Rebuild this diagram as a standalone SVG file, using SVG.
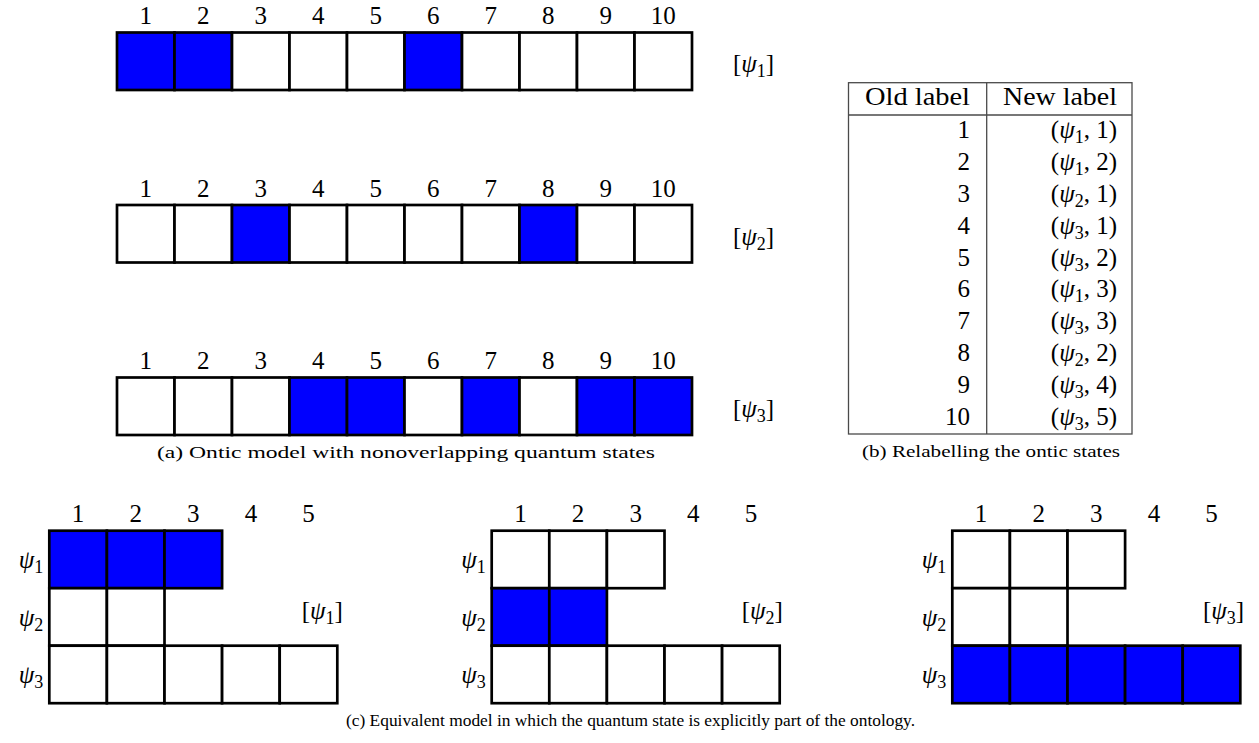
<svg xmlns="http://www.w3.org/2000/svg" width="1259" height="743" viewBox="0 0 1259 743">
<style>
.t{font-family:"Liberation Serif","DejaVu Serif",serif;fill:#000}
.num{font-size:25px;text-anchor:middle}
.lab{font-size:25px}
.it{font-style:italic}
.sub{font-size:18px}
.cap{font-size:17.5px;text-anchor:middle}
.c{stroke:#000;stroke-width:2.7;fill:#fff}
.b{fill:#0000ff}
.tl{stroke:#4a4a4a;stroke-width:1.3;fill:none}
</style>
<rect width="1259" height="743" fill="#fff"/>

<!-- Panel (a) row 1 -->
<g id="row-psi1">
<g class="t num">
<text x="145.75" y="23.5">1</text><text x="203.25" y="23.5">2</text><text x="260.75" y="23.5">3</text><text x="318.25" y="23.5">4</text><text x="375.75" y="23.5">5</text><text x="433.25" y="23.5">6</text><text x="490.75" y="23.5">7</text><text x="548.25" y="23.5">8</text><text x="605.75" y="23.5">9</text><text x="663.25" y="23.5">10</text>
</g>
<rect class="c b" x="117" y="32.5" width="57.5" height="57.5"/>
<rect class="c b" x="174.5" y="32.5" width="57.5" height="57.5"/>
<rect class="c" x="232" y="32.5" width="57.5" height="57.5"/>
<rect class="c" x="289.5" y="32.5" width="57.5" height="57.5"/>
<rect class="c" x="347" y="32.5" width="57.5" height="57.5"/>
<rect class="c b" x="404.5" y="32.5" width="57.5" height="57.5"/>
<rect class="c" x="462" y="32.5" width="57.5" height="57.5"/>
<rect class="c" x="519.5" y="32.5" width="57.5" height="57.5"/>
<rect class="c" x="577" y="32.5" width="57.5" height="57.5"/>
<rect class="c" x="634.5" y="32.5" width="57.5" height="57.5"/>
<text class="t lab" x="733" y="72">[<tspan class="it">ψ</tspan><tspan class="sub" dy="5">1</tspan><tspan dy="-5">]</tspan></text>
</g>

<!-- Panel (a) row 2 -->
<g id="row-psi2">
<g class="t num">
<text x="145.75" y="196.5">1</text><text x="203.25" y="196.5">2</text><text x="260.75" y="196.5">3</text><text x="318.25" y="196.5">4</text><text x="375.75" y="196.5">5</text><text x="433.25" y="196.5">6</text><text x="490.75" y="196.5">7</text><text x="548.25" y="196.5">8</text><text x="605.75" y="196.5">9</text><text x="663.25" y="196.5">10</text>
</g>
<rect class="c" x="117" y="205" width="57.5" height="57.5"/>
<rect class="c" x="174.5" y="205" width="57.5" height="57.5"/>
<rect class="c b" x="232" y="205" width="57.5" height="57.5"/>
<rect class="c" x="289.5" y="205" width="57.5" height="57.5"/>
<rect class="c" x="347" y="205" width="57.5" height="57.5"/>
<rect class="c" x="404.5" y="205" width="57.5" height="57.5"/>
<rect class="c" x="462" y="205" width="57.5" height="57.5"/>
<rect class="c b" x="519.5" y="205" width="57.5" height="57.5"/>
<rect class="c" x="577" y="205" width="57.5" height="57.5"/>
<rect class="c" x="634.5" y="205" width="57.5" height="57.5"/>
<text class="t lab" x="733" y="244.5">[<tspan class="it">ψ</tspan><tspan class="sub" dy="5">2</tspan><tspan dy="-5">]</tspan></text>
</g>

<!-- Panel (a) row 3 -->
<g id="row-psi3">
<g class="t num">
<text x="145.75" y="368.5">1</text><text x="203.25" y="368.5">2</text><text x="260.75" y="368.5">3</text><text x="318.25" y="368.5">4</text><text x="375.75" y="368.5">5</text><text x="433.25" y="368.5">6</text><text x="490.75" y="368.5">7</text><text x="548.25" y="368.5">8</text><text x="605.75" y="368.5">9</text><text x="663.25" y="368.5">10</text>
</g>
<rect class="c" x="117" y="377.5" width="57.5" height="57.5"/>
<rect class="c" x="174.5" y="377.5" width="57.5" height="57.5"/>
<rect class="c" x="232" y="377.5" width="57.5" height="57.5"/>
<rect class="c b" x="289.5" y="377.5" width="57.5" height="57.5"/>
<rect class="c b" x="347" y="377.5" width="57.5" height="57.5"/>
<rect class="c" x="404.5" y="377.5" width="57.5" height="57.5"/>
<rect class="c b" x="462" y="377.5" width="57.5" height="57.5"/>
<rect class="c" x="519.5" y="377.5" width="57.5" height="57.5"/>
<rect class="c b" x="577" y="377.5" width="57.5" height="57.5"/>
<rect class="c b" x="634.5" y="377.5" width="57.5" height="57.5"/>
<text class="t lab" x="733" y="417">[<tspan class="it">ψ</tspan><tspan class="sub" dy="5">3</tspan><tspan dy="-5">]</tspan></text>
</g>

<text id="cap-a" class="t cap" x="406" y="458" textLength="498" lengthAdjust="spacingAndGlyphs">(a) Ontic model with nonoverlapping quantum states</text>

<!-- Panel (b) table -->
<g id="table">
<rect class="tl" x="848.5" y="82.7" width="283.5" height="351.3"/>
<line class="tl" x1="848.5" y1="115" x2="1132" y2="115"/>
<line class="tl" x1="986.7" y1="82.7" x2="986.7" y2="434"/>
<text class="t lab" x="865" y="105" textLength="105" lengthAdjust="spacingAndGlyphs">Old label</text>
<text class="t lab" x="1003" y="105" textLength="114" lengthAdjust="spacingAndGlyphs">New label</text>
<g class="t lab" text-anchor="end">
<text x="970" y="138.3">1</text>
<text x="970" y="170.1">2</text>
<text x="970" y="201.9">3</text>
<text x="970" y="233.7">4</text>
<text x="970" y="265.5">5</text>
<text x="970" y="297.3">6</text>
<text x="970" y="329.1">7</text>
<text x="970" y="360.9">8</text>
<text x="970" y="392.7">9</text>
<text x="970" y="424.5">10</text>
</g>
<g class="t lab" text-anchor="end">
<text x="1117" y="138.3">(<tspan class="it">ψ</tspan><tspan class="sub" dy="5">1</tspan><tspan dy="-5">, 1)</tspan></text>
<text x="1117" y="170.1">(<tspan class="it">ψ</tspan><tspan class="sub" dy="5">1</tspan><tspan dy="-5">, 2)</tspan></text>
<text x="1117" y="201.9">(<tspan class="it">ψ</tspan><tspan class="sub" dy="5">2</tspan><tspan dy="-5">, 1)</tspan></text>
<text x="1117" y="233.7">(<tspan class="it">ψ</tspan><tspan class="sub" dy="5">3</tspan><tspan dy="-5">, 1)</tspan></text>
<text x="1117" y="265.5">(<tspan class="it">ψ</tspan><tspan class="sub" dy="5">3</tspan><tspan dy="-5">, 2)</tspan></text>
<text x="1117" y="297.3">(<tspan class="it">ψ</tspan><tspan class="sub" dy="5">1</tspan><tspan dy="-5">, 3)</tspan></text>
<text x="1117" y="329.1">(<tspan class="it">ψ</tspan><tspan class="sub" dy="5">3</tspan><tspan dy="-5">, 3)</tspan></text>
<text x="1117" y="360.9">(<tspan class="it">ψ</tspan><tspan class="sub" dy="5">2</tspan><tspan dy="-5">, 2)</tspan></text>
<text x="1117" y="392.7">(<tspan class="it">ψ</tspan><tspan class="sub" dy="5">3</tspan><tspan dy="-5">, 4)</tspan></text>
<text x="1117" y="424.5">(<tspan class="it">ψ</tspan><tspan class="sub" dy="5">3</tspan><tspan dy="-5">, 5)</tspan></text>
</g>
</g>
<text id="cap-b" class="t cap" x="991" y="457" textLength="258" lengthAdjust="spacingAndGlyphs">(b) Relabelling the ontic states</text>

<!-- Panel (c) grids -->
<g id="grid-psi1" transform="translate(49.3,0)">
<g class="t num">
<text x="28.8" y="521.7">1</text><text x="86.4" y="521.7">2</text><text x="144" y="521.7">3</text><text x="201.6" y="521.7">4</text><text x="259.2" y="521.7">5</text>
</g>
<g class="t lab" text-anchor="end">
<text x="-6" y="568"><tspan class="it">ψ</tspan><tspan class="sub" dy="5">1</tspan></text>
<text x="-6" y="625.5"><tspan class="it">ψ</tspan><tspan class="sub" dy="5">2</tspan></text>
<text x="-6" y="683"><tspan class="it">ψ</tspan><tspan class="sub" dy="5">3</tspan></text>
</g>
<rect class="c b" x="0" y="530.7" width="57.6" height="57.5"/>
<rect class="c b" x="57.6" y="530.7" width="57.6" height="57.5"/>
<rect class="c b" x="115.2" y="530.7" width="57.6" height="57.5"/>
<rect class="c" x="0" y="588.2" width="57.6" height="57.5"/>
<rect class="c" x="57.6" y="588.2" width="57.6" height="57.5"/>
<rect class="c" x="0" y="645.7" width="57.6" height="57.5"/>
<rect class="c" x="57.6" y="645.7" width="57.6" height="57.5"/>
<rect class="c" x="115.2" y="645.7" width="57.6" height="57.5"/>
<rect class="c" x="172.8" y="645.7" width="57.6" height="57.5"/>
<rect class="c" x="230.4" y="645.7" width="57.6" height="57.5"/>
<text class="t lab" x="252.4" y="619">[<tspan class="it">ψ</tspan><tspan class="sub" dy="5">1</tspan><tspan dy="-5">]</tspan></text>
</g>

<g id="grid-psi2" transform="translate(491.7,0)">
<g class="t num">
<text x="28.8" y="521.7">1</text><text x="86.4" y="521.7">2</text><text x="144" y="521.7">3</text><text x="201.6" y="521.7">4</text><text x="259.2" y="521.7">5</text>
</g>
<g class="t lab" text-anchor="end">
<text x="-6" y="568"><tspan class="it">ψ</tspan><tspan class="sub" dy="5">1</tspan></text>
<text x="-6" y="625.5"><tspan class="it">ψ</tspan><tspan class="sub" dy="5">2</tspan></text>
<text x="-6" y="683"><tspan class="it">ψ</tspan><tspan class="sub" dy="5">3</tspan></text>
</g>
<rect class="c" x="0" y="530.7" width="57.6" height="57.5"/>
<rect class="c" x="57.6" y="530.7" width="57.6" height="57.5"/>
<rect class="c" x="115.2" y="530.7" width="57.6" height="57.5"/>
<rect class="c b" x="0" y="588.2" width="57.6" height="57.5"/>
<rect class="c b" x="57.6" y="588.2" width="57.6" height="57.5"/>
<rect class="c" x="0" y="645.7" width="57.6" height="57.5"/>
<rect class="c" x="57.6" y="645.7" width="57.6" height="57.5"/>
<rect class="c" x="115.2" y="645.7" width="57.6" height="57.5"/>
<rect class="c" x="172.8" y="645.7" width="57.6" height="57.5"/>
<rect class="c" x="230.4" y="645.7" width="57.6" height="57.5"/>
<text class="t lab" x="250" y="619">[<tspan class="it">ψ</tspan><tspan class="sub" dy="5">2</tspan><tspan dy="-5">]</tspan></text>
</g>

<g id="grid-psi3" transform="translate(952.3,0)">
<g class="t num">
<text x="28.8" y="521.7">1</text><text x="86.4" y="521.7">2</text><text x="144" y="521.7">3</text><text x="201.6" y="521.7">4</text><text x="259.2" y="521.7">5</text>
</g>
<g class="t lab" text-anchor="end">
<text x="-6" y="568"><tspan class="it">ψ</tspan><tspan class="sub" dy="5">1</tspan></text>
<text x="-6" y="625.5"><tspan class="it">ψ</tspan><tspan class="sub" dy="5">2</tspan></text>
<text x="-6" y="683"><tspan class="it">ψ</tspan><tspan class="sub" dy="5">3</tspan></text>
</g>
<rect class="c" x="0" y="530.7" width="57.6" height="57.5"/>
<rect class="c" x="57.6" y="530.7" width="57.6" height="57.5"/>
<rect class="c" x="115.2" y="530.7" width="57.6" height="57.5"/>
<rect class="c" x="0" y="588.2" width="57.6" height="57.5"/>
<rect class="c" x="57.6" y="588.2" width="57.6" height="57.5"/>
<rect class="c b" x="0" y="645.7" width="57.6" height="57.5"/>
<rect class="c b" x="57.6" y="645.7" width="57.6" height="57.5"/>
<rect class="c b" x="115.2" y="645.7" width="57.6" height="57.5"/>
<rect class="c b" x="172.8" y="645.7" width="57.6" height="57.5"/>
<rect class="c b" x="230.4" y="645.7" width="57.6" height="57.5"/>
<text class="t lab" x="250.7" y="619">[<tspan class="it">ψ</tspan><tspan class="sub" dy="5">3</tspan><tspan dy="-5">]</tspan></text>
</g>

<g id="connectors"></g>

<text id="cap-c" class="t cap" x="630.5" y="726" textLength="569" lengthAdjust="spacingAndGlyphs">(c) Equivalent model in which the quantum state is explicitly part of the ontology.</text>
</svg>
